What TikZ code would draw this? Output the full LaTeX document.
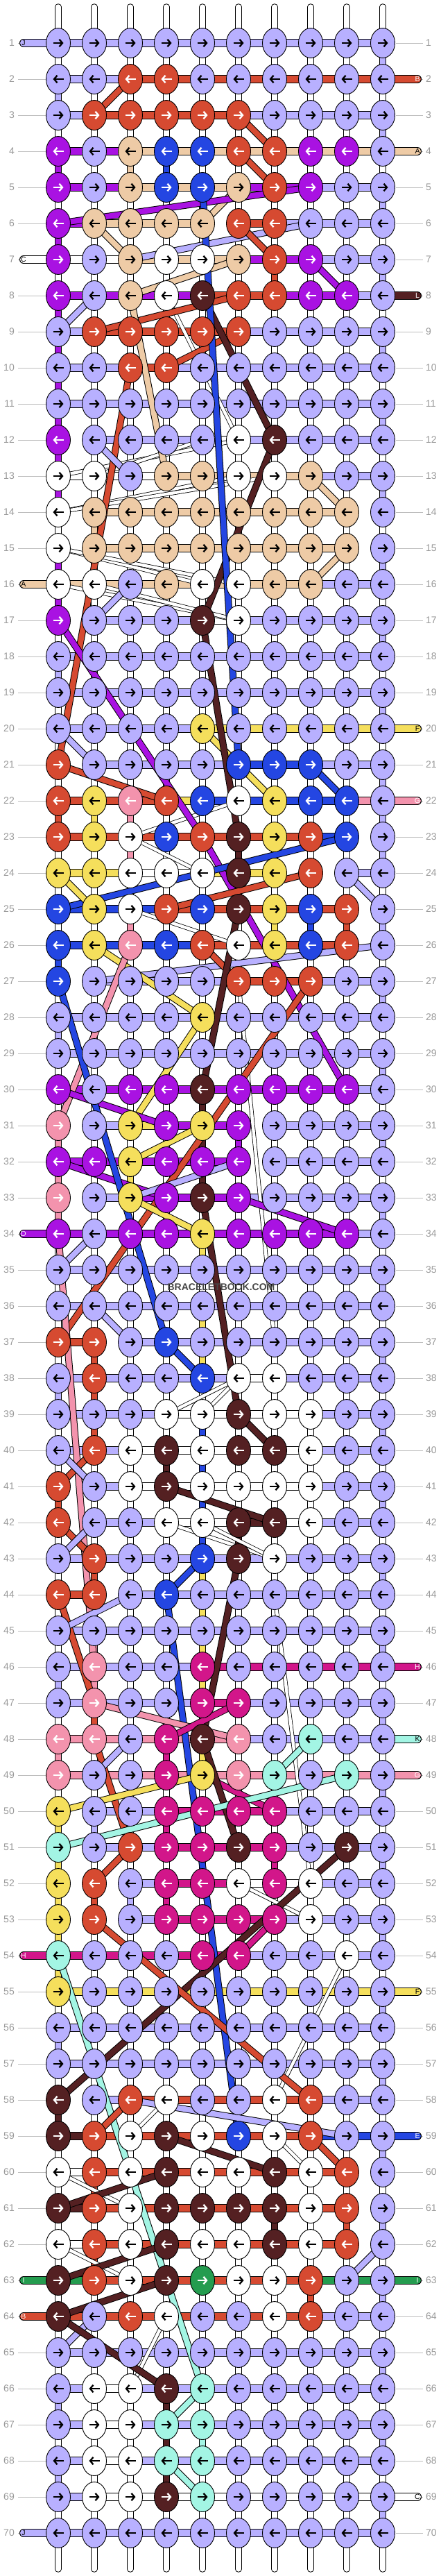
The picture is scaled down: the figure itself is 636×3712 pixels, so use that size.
\documentclass[tikz,border=0pt]{standalone}
\usepackage{fontspec}
\setmainfont{Liberation Sans}
\usetikzlibrary{shapes.geometric,arrows.meta}
\definecolor{cL}{HTML}{B8B0FF}
\definecolor{cR}{HTML}{D64A31}
\definecolor{cP}{HTML}{A912E2}
\definecolor{cT}{HTML}{EECBA6}
\definecolor{cU}{HTML}{2446E2}
\definecolor{cW}{HTML}{FFFFFF}
\definecolor{cD}{HTML}{542022}
\definecolor{cY}{HTML}{F5DF5C}
\definecolor{cK}{HTML}{F393AD}
\definecolor{cM}{HTML}{D2168A}
\definecolor{cA}{HTML}{A3F5E4}
\definecolor{cG}{HTML}{249C4F}
\colorlet{aL}{black}\colorlet{aT}{black}\colorlet{aW}{black}\colorlet{aY}{black}\colorlet{aA}{black}
\colorlet{aR}{white}\colorlet{aP}{white}\colorlet{aU}{white}\colorlet{aD}{white}\colorlet{aK}{white}\colorlet{aM}{white}\colorlet{aG}{white}
\definecolor{lblgray}{HTML}{9A9A9A}
\definecolor{tickgray}{HTML}{BDBDBD}

\def\knotrows{1/{L,L,L,L,L,L,L,L,L,L},2/{L,L,R,R,L,L,L,L,L,L},3/{L,R,R,R,R,R,L,L,L,L},4/{P,L,T,U,U,R,R,P,P,L},5/{P,L,T,U,U,T,R,P,L,L},6/{P,T,T,T,T,R,R,L,L,L},7/{P,L,T,W,W,T,R,P,L,L},8/{P,L,T,W,D,R,R,P,P,L},9/{L,R,R,R,R,R,L,L,L,L},10/{L,L,R,R,L,L,L,L,L,L},11/{L,L,L,L,L,L,L,L,L,L},12/{P,L,L,L,L,W,D,L,L,L},13/{W,W,L,T,T,W,W,T,L,L},14/{W,T,T,T,T,T,T,T,T,L},15/{W,T,T,T,T,T,T,T,T,L},16/{W,W,L,T,W,W,T,T,L,L},17/{P,L,L,L,D,W,L,L,L,L},18/{L,L,L,L,L,L,L,L,L,L},19/{L,L,L,L,L,L,L,L,L,L},20/{L,L,L,L,Y,L,L,L,L,L},21/{R,L,L,L,L,U,U,U,L,L},22/{R,Y,K,R,U,W,Y,U,U,L},23/{R,Y,W,U,R,D,Y,R,U,L},24/{Y,Y,W,W,W,D,Y,R,L,L},25/{U,Y,W,R,U,D,Y,U,R,L},26/{U,Y,K,U,R,W,Y,U,R,L},27/{U,L,L,L,L,R,R,R,L,L},28/{L,L,L,L,Y,L,L,L,L,L},29/{L,L,L,L,L,L,L,L,L,L},30/{P,L,P,P,D,P,P,P,P,L},31/{K,L,Y,P,Y,P,L,L,L,L},32/{P,P,Y,P,P,P,L,L,L,L},33/{K,L,Y,P,D,P,L,L,L,L},34/{P,L,P,P,Y,P,P,P,P,L},35/{L,L,L,L,L,L,L,L,L,L},36/{L,L,L,L,L,L,L,L,L,L},37/{R,R,L,U,L,L,L,L,L,L},38/{L,R,L,L,U,W,W,L,L,L},39/{L,L,L,W,W,D,W,W,L,L},40/{L,R,W,D,W,D,D,W,L,L},41/{R,L,W,D,W,W,W,W,L,L},42/{R,L,L,W,W,D,D,W,L,L},43/{L,R,L,L,U,D,W,L,L,L},44/{R,R,L,U,L,L,L,L,L,L},45/{L,L,L,L,L,L,L,L,L,L},46/{L,K,L,L,M,L,L,L,L,L},47/{L,K,L,L,M,M,L,L,L,L},48/{K,K,L,M,D,K,L,A,L,L},49/{K,L,L,M,Y,K,A,L,A,L},50/{Y,L,L,M,M,M,M,L,L,L},51/{A,L,R,M,M,D,M,L,D,L},52/{Y,R,L,M,M,W,M,W,L,L},53/{Y,R,L,M,M,M,M,W,L,L},54/{A,L,L,L,M,M,L,L,W,L},55/{Y,L,L,L,L,L,L,L,L,L},56/{L,L,L,L,L,L,L,L,L,L},57/{L,L,L,L,L,L,L,L,L,L},58/{D,L,R,W,L,L,W,R,L,L},59/{D,R,W,D,W,U,W,R,L,L},60/{W,R,W,D,W,W,D,W,R,L},61/{D,R,W,D,D,D,D,W,R,L},62/{W,R,W,D,W,W,D,W,R,L},63/{D,R,W,D,G,W,W,R,L,L},64/{D,L,R,W,L,L,W,R,L,L},65/{L,L,L,L,L,L,L,L,L,L},66/{L,W,W,D,A,L,L,L,L,L},67/{L,W,W,A,A,L,L,L,L,L},68/{L,W,W,A,A,L,L,L,L,L},69/{L,W,W,D,A,L,L,L,L,L},70/{L,L,L,L,L,L,L,L,L,L}}

\def\hrows{1/{L,L,L,L,L,L,L,L,L},2/{L,L,R,R,R,R,R,R,R},3/{L,R,R,R,R,L,L,L,L},4/{P,P,T,T,T,T,T,T,T},5/{P,P,T,T,T,P,P,L,L},6/{P,T,T,T,N,R,L,L,L},7/{W,W,T,T,T,P,P,L,L},8/{P,P,P,P,R,R,P,P,L},9/{L,R,R,R,R,L,L,L,L},10/{L,L,R,L,L,L,L,L,L},11/{L,L,L,L,L,L,L,L,L},12/{N,L,L,L,W,L,L,L,L},13/{W,W,W,T,T,T,T,L,L},14/{N,T,T,T,T,T,T,T,N},15/{N,T,T,T,T,T,T,T,N},16/{T,T,T,T,T,T,T,L,L},17/{N,L,L,L,W,L,L,L,L},18/{L,L,L,L,L,L,L,L,L},19/{L,L,L,L,L,L,L,L,L},20/{L,L,L,L,Y,Y,Y,Y,Y},21/{N,L,L,L,L,U,U,L,L},22/{R,R,R,Y,U,U,U,U,K},23/{R,R,R,R,R,R,R,U,N},24/{Y,Y,W,W,Y,Y,N,N,L},25/{U,U,U,R,R,R,R,R,N},26/{U,U,U,U,R,R,R,R,N},27/{N,L,L,L,L,R,R,L,L},28/{L,L,L,L,L,L,L,L,L},29/{L,L,L,L,L,L,L,L,L},30/{P,P,P,P,P,P,P,P,L},31/{N,L,Y,P,P,N,L,L,L},32/{P,P,P,P,P,N,L,L,L},33/{N,L,P,P,P,L,L,L,L},34/{P,P,P,P,P,P,P,P,L},35/{L,L,L,L,L,L,L,L,L},36/{L,L,L,L,L,L,L,L,L},37/{R,N,L,L,L,L,L,L,L},38/{L,L,L,L,L,W,L,L,L},39/{L,L,L,W,W,W,W,L,L},40/{L,L,W,W,W,W,W,L,L},41/{N,L,W,W,W,W,W,L,L},42/{N,L,L,W,W,D,W,L,L},43/{L,L,L,L,L,L,L,L,L},44/{R,N,L,L,L,L,L,L,L},45/{L,L,L,L,L,L,L,L,L},46/{L,L,L,L,M,M,M,M,M},47/{L,L,L,L,M,L,L,L,L},48/{K,K,K,K,K,L,L,L,L},49/{K,K,K,K,K,K,K,K,K},50/{N,L,L,M,M,M,L,L,L},51/{N,L,L,M,M,M,L,L,L},52/{N,N,L,M,M,W,W,L,L},53/{N,N,L,M,M,M,L,L,L},54/{M,M,M,M,M,L,L,L,L},55/{Y,Y,Y,Y,Y,Y,Y,Y,Y},56/{L,L,L,L,L,L,L,L,L},57/{L,L,L,L,L,L,L,L,L},58/{N,L,R,R,R,R,R,L,L},59/{D,R,R,R,R,R,R,U,U},60/{W,R,R,R,R,R,R,R,N},61/{D,R,R,R,R,R,R,R,N},62/{W,R,R,R,R,R,R,R,N},63/{G,R,R,R,R,R,R,G,G},64/{R,R,R,R,R,R,R,L,L},65/{L,L,L,L,L,L,L,L,L},66/{L,W,L,L,L,L,L,L,L},67/{L,W,L,L,L,L,L,L,L},68/{L,W,L,L,L,L,L,L,L},69/{L,W,W,W,W,W,W,W,W},70/{L,L,L,L,L,L,L,L,L}}

\def\vover{2/1/L,18/1/L,28/1/L,38/1/L,46/1/L,56/1/L,66/1/L,68/1/L,4/1/P,4/3/T,4/4/U,5/5/U,6/1/P,7/7/R,8/1/P,9/1/P,10/1/P,11/1/P,12/1/P,13/1/P,15/1/P,16/1/P,14/2/T,22/1/R,22/2/Y,22/3/K,22/10/L,23/3/K,23/6/D,24/6/D,25/3/K,25/7/Y,25/8/U,25/9/R,26/1/U,30/5/D,31/5/D,32/5/D,31/1/K,31/6/P,32/1/K,32/3/Y,33/1/K,34/5/Y,36/5/Y,37/2/R,37/5/Y,38/2/R,39/2/R,39/5/U,40/4/D,40/5/U,41/1/R,41/5/U,42/5/U,42/6/D,43/2/R,43/5/Y,44/5/Y,45/2/K,45/5/Y,46/2/K,46/5/Y,47/2/R,47/5/Y,48/1/K,48/4/M,48/5/Y,50/1/Y,50/2/L,50/4/M,51/1/Y,51/7/M,51/5/U,52/1/Y,52/2/R,52/3/L,52/4/M,53/1/Y,54/1/Y,58/1/D,60/2/R,61/7/D,61/9/R,62/2/R,63/8/R,66/4/D,67/4/D,67/5/A,68/4/D}

\def\wdiags{8/4/12/6,13/1/12/6,13/2/12/5,14/1/13/6,14/1/13/7,15/1/16/5,15/1/16/6,16/1/17/6,16/2/17/6,22/6/23/3,23/3/24/5,25/3/26/6,27/6/37/7,38/6/39/4,38/6/39/5,42/4/43/7,42/5/43/7,44/7/52/8,52/6/53/8,54/9/58/7,58/4/59/3,59/7/60/8,60/1/61/3,62/1/63/3,64/4/66/3}

\def\diags{2/3/3/2/R,3/6/4/7/R,4/6/5/7/R,5/6/6/5/T,6/8/7/3/L,5/8/6/1/P,6/2/7/3/T,6/6/7/7/R,7/8/8/9/P,7/6/8/3/T,8/6/9/2/R,8/2/9/1/L,9/6/10/4/R,8/3/13/4/T,8/5/12/7/D,12/7/17/5/D,10/3/21/1/R,5/5/21/6/U,12/2/13/3/L,13/8/14/9/T,15/9/16/8/T,16/3/17/2/L,17/1/23/5/P,20/5/22/7/Y,21/8/22/9/U,21/1/22/4/R,20/1/21/2/L,17/5/23/6/D,23/5/30/9/P,23/9/25/1/U,24/8/25/4/R,24/1/25/2/Y,24/9/25/10/L,26/10/27/2/L,26/2/28/5/Y,28/5/31/3/Y,26/5/27/6/R,26/3/31/1/K,25/6/30/5/D,27/8/37/1/R,30/1/31/4/P,32/1/33/4/P,33/6/34/9/P,31/5/32/3/Y,33/3/34/5/Y,32/6/33/3/L,27/1/37/4/U,34/1/46/2/K,34/2/35/1/L,36/2/37/3/L,37/4/38/5/U,33/5/39/6/D,39/6/40/7/D,40/2/41/1/R,40/1/41/2/L,41/4/42/7/D,42/1/43/2/R,42/2/43/1/L,43/5/44/4/U,43/6/48/5/D,44/4/59/6/U,44/1/47/2/R,48/2/51/3/R,44/3/45/1/L,47/2/48/6/K,47/6/48/4/M,48/3/49/2/L,49/5/50/1/Y,49/5/50/7/M,48/5/51/6/D,48/8/49/7/A,49/9/51/1/A,51/3/52/2/R,51/9/58/1/D,53/2/58/8/R,53/7/54/6/M,54/1/66/5/A,58/3/59/9/L,58/3/59/2/R,59/4/60/7/D,60/4/61/1/D,62/4/63/1/D,63/4/64/1/D,59/8/60/9/R,62/10/63/9/L,64/2/65/1/L,64/1/66/4/D,66/5/67/4/A,68/4/69/5/A}

\def\stubs{1/l/L/J/black,2/r/R/B/white,4/r/T/A/black,7/l/W/C/black,8/r/D/L/white,16/l/T/A/black,20/r/Y/F/black,22/r/K/G/white,34/l/P/D/white,46/r/M/H/white,48/r/A/K/black,49/r/K/G/white,54/l/M/H/white,55/r/Y/F/black,59/r/U/E/white,63/l/G/I/white,63/r/G/I/white,64/l/R/B/white,69/r/W/C/black,70/l/L/J/black}

\tikzset{
  knot/.style={ellipse, draw=black, line width=0.9pt, minimum width=35pt, minimum height=43pt, inner sep=0pt},
  arr/.style={line width=2.3pt, -{Straight Barb[length=4.5pt,width=10.5pt]}},
  vout/.style={line width=9.5pt, black},
  vin/.style={line width=7.5pt},
  hout/.style={line width=12pt, black},
  hin/.style={line width=10pt},
  dout/.style={line width=10pt, black},
  din/.style={line width=8pt},
  wout/.style={line width=6pt, black},
  win/.style={line width=4.4pt, white},
  sout/.style={line width=12pt, black, line cap=round},
  sin/.style={line width=10pt, line cap=round},
  rowtick/.style={tickgray, line width=0.9pt},
  lbl/.style={text=lblgray, font=\fontsize{14}{14}\selectfont, inner sep=0pt},
  endlbl/.style={font=\fontsize{10.5}{10.5}\selectfont, inner sep=0pt},
}

\begin{document}
\begin{tikzpicture}[x=1pt, y=-1pt]
\fill[white] (0,0) rectangle (636,3712);
\useasboundingbox (0,0) rectangle (636,3712);
% grid coordinates
\foreach \r in {1,...,70}{
  \foreach \c in {1,...,10}{
    \coordinate (p-\r-\c) at ({84+52*(\c-1)},{62+52*(\r-1)});
  }
}
% top / bottom strand ends
\foreach \c in {1,...,10}{
  \path (p-1-\c) ++(0,-52) coordinate (top-\c);
  \path (p-70-\c) ++(0,52) coordinate (bot-\c);
  \draw[line width=9.5pt, black, line cap=round] (top-\c) -- (p-1-\c);
  \draw[line width=7.5pt, white, line cap=round] (top-\c) -- (p-1-\c);
  \draw[line width=9.5pt, black, line cap=round] (bot-\c) -- (p-70-\c);
  \draw[line width=7.5pt, white, line cap=round] (bot-\c) -- (p-70-\c);
}
% row ticks and labels
\foreach \r in {1,...,70}{
  \path (p-\r-1) ++(-58,0) coordinate (tl-\r) ++(40,0) coordinate (tl2-\r);
  \path (p-\r-10) ++(19,0) coordinate (tr-\r) ++(39,0) coordinate (tr2-\r);
  \draw[rowtick] (tl-\r) -- (tl2-\r);
  \draw[rowtick] (tr-\r) -- (tr2-\r);
  \node[lbl, anchor=east] (ll-\r) at ({21},{62+52*(\r-1)}) {\r};
  \node[lbl, anchor=west] (rl-\r) at ({614},{62+52*(\r-1)}) {\r};
}
% vertical strands (default white)
\foreach \r in {1,...,69}{
  \pgfmathtruncatemacro\rn{\r+1}
  \foreach \c in {1,...,10}{
    \draw[vout] (p-\r-\c) -- (p-\rn-\c);
    \draw[vin, white] (p-\r-\c) -- (p-\rn-\c);
  }
}
\foreach \r in {1,3,...,69}{
  \pgfmathtruncatemacro\rn{\r+1}
  \draw[vin, cL] (p-\r-10) -- (p-\rn-10);
}
\foreach \r/\c/\k in \vover{
  \pgfmathtruncatemacro\rn{\r+1}
  \draw[vin, c\k] (p-\r-\c) -- (p-\rn-\c);
}
% horizontal strands
\foreach \r/\hs in \hrows{
  \foreach \h [count=\c] in \hs{
    \if N\h\else
      \pgfmathtruncatemacro\cn{\c+1}
      \draw[hout] (p-\r-\c) -- (p-\r-\cn);
      \draw[hin, c\h] (p-\r-\c) -- (p-\r-\cn);
    \fi
  }
}
% side string ends
\foreach \r/\s/\k/\t/\tc in \stubs{
  \if l\s
    \path (p-\r-1) ++(-50,0) coordinate (e-\r-\s);
    \draw[sout] (e-\r-\s) -- (p-\r-1);
    \draw[sin, c\k] (e-\r-\s) -- (p-\r-1);
  \else
    \path (p-\r-10) ++(50,0) coordinate (e-\r-\s);
    \draw[sout] (e-\r-\s) -- (p-\r-10);
    \draw[sin, c\k] (e-\r-\s) -- (p-\r-10);
  \fi
  \node[endlbl, text=\tc] (el-\r-\s) at (e-\r-\s) {\t};
}
% thin white diagonal strands
\foreach \ra/\ca/\rb/\cb in \wdiags{
  \draw[wout] (p-\ra-\ca) -- (p-\rb-\cb);
  \draw[win] (p-\ra-\ca) -- (p-\rb-\cb);
}
% coloured diagonal strands
\foreach \ra/\ca/\rb/\cb/\k in \diags{
  \draw[dout] (p-\ra-\ca) -- (p-\rb-\cb);
  \draw[din, c\k] (p-\ra-\ca) -- (p-\rb-\cb);
}
% knots
\foreach \r/\ks in \knotrows{
  \foreach \k [count=\c] in \ks{
    \node[knot, fill=c\k] (k-\r-\c) at (p-\r-\c) {};
    \ifodd\r\relax
      \draw[arr, a\k] ([xshift=-7.5pt]k-\r-\c.center) -- ([xshift=7.5pt]k-\r-\c.center);
    \else
      \draw[arr, a\k] ([xshift=7.5pt]k-\r-\c.center) -- ([xshift=-7.5pt]k-\r-\c.center);
    \fi
  }
}
% watermark
\node[font=\bfseries\fontsize{14}{14}\selectfont, text=black!72, inner sep=1pt] (wm) at (319,1855) {BRACELETBOOK.COM};
\end{tikzpicture}
\end{document}
